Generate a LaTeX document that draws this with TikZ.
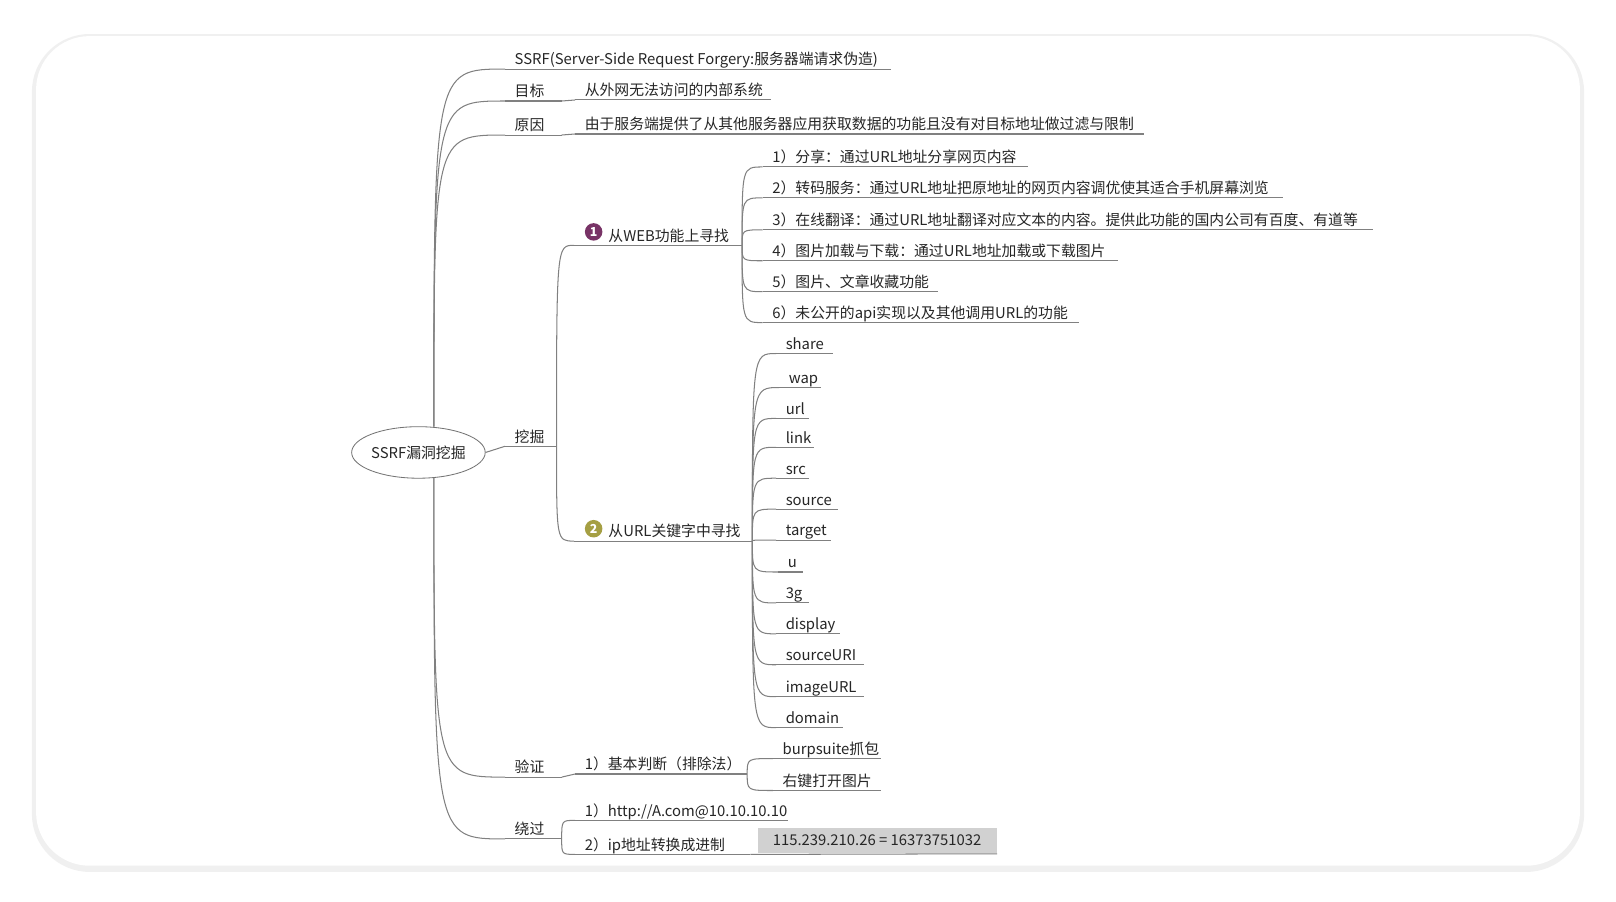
\documentclass[tikz,border=0pt]{standalone}
\usepackage{fontspec}
\setmainfont{Noto Sans CJK SC}
\usetikzlibrary{calc,shapes.geometric}
\newcommand\tp[5]{\node[lab,anchor=base west] (#1) at (#2,#3-4) {#5};
 \coordinate (#1s) at (#2-9,#3); \coordinate (#1e) at (#4,#3); \draw[ul] (#1s)--(#1e);}
\newcommand\cn[2]{\draw[ul] (#1) .. controls (#1 |- #2) .. (#2);}
\begin{document}
\begin{tikzpicture}[x=0.5pt,y=-0.5pt,
 lab/.style={inner sep=0pt,font=\fontsize{7.2}{8}\selectfont,text=black!85},
 ul/.style={draw=black!50,line width=0.5pt}]
\useasboundingbox (0,0) rectangle (1568,875);
\fill[white] (0,0) rectangle (1568,875);
\fill[black!6] (31,33) [rounded corners=28pt] rectangle (1537,846);
\fill[white,rounded corners=26pt] (35,35) rectangle (1533,840);
\node[ellipse,draw=black!55,minimum width=60pt,minimum height=25pt,lab,inner sep=0pt] (root) at (406,439) {SSRF漏洞挖掘};
% level 1
\tp{a}{499}{67}{865}{SSRF(Server-Side Request Forgery:服务器端请求伪造)}
\tp{b}{499}{98}{545}{目标}
\tp{c}{499}{131}{545}{原因}
\tp{d}{499}{433}{540}{挖掘}
\tp{e}{499}{754}{545}{验证}
\tp{f}{499}{814}{545}{绕过}
\coordinate (r1) at (421,414); \coordinate (r2) at (421,464);
\cn{r1}{as}\cn{r1}{bs}\cn{r1}{cs}\draw[ul] (root.east)--(ds);\cn{r2}{es}\cn{r2}{fs}
\tp{b1}{567}{97}{748}{从外网无法访问的内部系统}\draw[ul](be)--(b1s);
\tp{c1}{567}{130}{1110}{由于服务端提供了从其他服务器应用获取数据的功能且没有对目标地址做过滤与限制}\draw[ul](ce)--(c1s);
% WEB
\tp{w}{590}{238}{720}{从WEB功能上寻找}
\tp{k}{590}{525}{730}{从URL关键字中寻找}
\coordinate (ws) at (557,238); \coordinate (ks) at (557,525);
\draw[ul] (ws)--(w.base west|-ws); \draw[ul] (ks)--(k.base west|-ks);
\fill[red!45!black!75!blue!80] (576,225) circle (8.5); \node[lab,text=white,font=\fontsize{6}{6}\selectfont\bfseries] (n1) at (576,225) {1};
\fill[olive!85!black!70] (576,513) circle (8.5); \node[lab,text=white,font=\fontsize{6}{6}\selectfont\bfseries] (n2) at (576,513) {2};
\cn{de}{ws}\cn{de}{ks}
\tp{w1}{749}{162}{997}{1）分享：通过URL地址分享网页内容}
\tp{w2}{749}{192}{1245}{2）转码服务：通过URL地址把原地址的网页内容调优使其适合手机屏幕浏览}
\tp{w3}{749}{223}{1332}{3）在线翻译：通过URL地址翻译对应文本的内容。提供此功能的国内公司有百度、有道等}
\tp{w4}{749}{253}{1085}{4）图片加载与下载：通过URL地址加载或下载图片}
\tp{w5}{749}{283}{910}{5）图片、文章收藏功能}
\tp{w6}{749}{313}{1047}{6）未公开的api实现以及其他调用URL的功能}
\foreach \i in {1,...,6}{\cn{we}{w\i s}}
\tp{u1}{762}{343}{808}{share}
\tp{u2}{765}{376}{797}{wap}
\tp{u3}{762}{406}{785}{url}
\tp{u4}{762}{434}{790}{link}
\tp{u5}{762}{464}{785}{src}
\tp{u6}{762}{494}{813}{source}
\tp{u7}{762}{524}{806}{target}
\tp{u8}{764}{555}{779}{u}
\tp{u9}{762}{585}{785}{3g}
\tp{u10}{762}{615}{815}{display}
\tp{u11}{762}{645}{838}{sourceURI}
\tp{u12}{762}{676}{838}{imageURL}
\tp{u13}{762}{706}{818}{domain}
\foreach \i in {1,...,13}{\cn{ke}{u\i s}}
% verify
\tp{e1}{567}{751}{725}{1）基本判断（排除法）}\draw[ul](ee)--(e1s);
\tp{e2}{759}{736}{855}{burpsuite抓包}
\tp{e3}{759}{767}{855}{右键打开图片}
\cn{e1e}{e2s}\cn{e1e}{e3s}
% bypass
\tp{f1}{567}{796}{765}{1）http://A.com@10.10.10.10}
\tp{f2}{567}{829}{728}{2）ip地址转换成进制}
\cn{fe}{f1s}\cn{fe}{f2s}
\node[lab,fill=black!18,minimum width=116pt,minimum height=12.5pt] (g) at (851,815.5) {115.239.210.26 = 16373751032};
\coordinate (gs) at (735,829); \draw[ul] (f2e)--(gs)--(g.south east);
\end{tikzpicture}
\end{document}
